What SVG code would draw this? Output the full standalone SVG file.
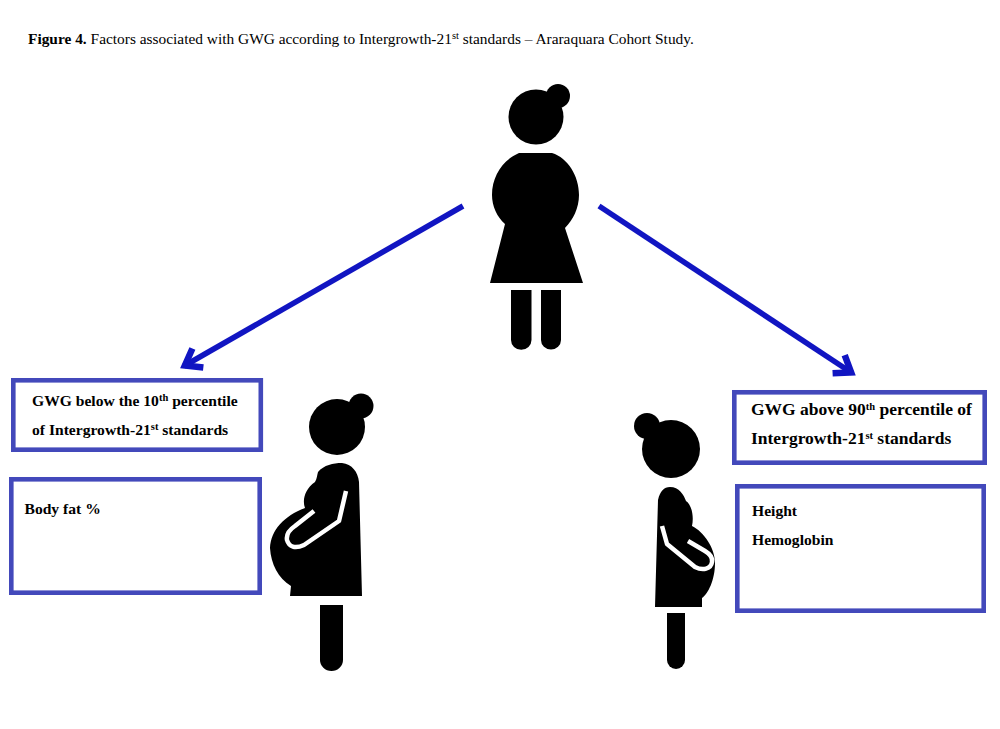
<svg xmlns="http://www.w3.org/2000/svg" width="1000" height="729" viewBox="0 0 1000 729">
<style>
text{font-family:"Liberation Serif","Times New Roman",serif;fill:#000}
.cap{font-size:15.4px}
.lab{font-size:15.6px;font-weight:bold}
.lab2{font-size:17.5px;font-weight:bold}
.sup{font-size:10.500px}
.box{fill:#fff;stroke:#4349bb;stroke-width:4.6}
.conn{fill:none;stroke:#1115c2;stroke-width:5.500}
.fig{fill:#000}
.arm{fill:none;stroke:#fff;stroke-width:4.500;stroke-linejoin:round}
</style>
<defs>
<marker id="head" markerUnits="userSpaceOnUse" markerWidth="32" markerHeight="32" refX="26" refY="16" orient="auto">
<path d="M10 5L25 16L10 27" fill="none" stroke="#1115c2" stroke-width="6.500" stroke-linejoin="miter"/>
</marker>
</defs>
<rect width="1000" height="729" fill="#fff"/>
<text id="caption" class="cap" x="28" y="44"><tspan font-weight="bold">Figure 4.</tspan> Factors associated with GWG according to Intergrowth-21<tspan class="sup" dy="-5">st</tspan><tspan dy="5"> standards – Araraquara Cohort Study.</tspan></text>
<g id="connectors">
<path class="conn" d="M463 206L184 366" marker-end="url(#head)"/>
<path class="conn" d="M599 206L852 373" marker-end="url(#head)"/>
</g>
<g id="woman">
<circle class="fig" cx="536" cy="117" r="27.500"/>
<circle class="fig" cx="558" cy="96" r="12"/>
<path class="fig" d="M519 153H552C568 158 579 176 579 195C579 208 573 220 565 228L583 283H490L505 224C497 217 492 206 492 195C492 176 503 160 519 153Z"/>
<path class="fig" d="M511 290H531.500V340A10 9.500 0 0 1 511 340Z"/>
<path class="fig" d="M541 290H561V340A10 9.500 0 0 1 541 340Z"/>
</g>
<g id="pregnant-left">
<circle class="fig" cx="337" cy="427" r="28"/>
<circle class="fig" cx="361" cy="406" r="12.500"/>
<path class="fig" d="M318 472C324 465 333 463 342 463C352 464 358 472 359 482L362 596H290L291 586C278 578 271 564 270 548C271 530 284 516 305 508C302 500 305 489 315 482C317 479 317 475 318 472Z"/>
<path class="arm" d="M346 491L339 521L304 545C295 549 289 547 287 540C286 534 289 530 295 526L314 511"/>
<path class="fig" d="M320 605H343V660A11.500 11 0 0 1 320 660Z"/>
</g>
<g id="pregnant-right">
<circle class="fig" cx="671" cy="449" r="29"/>
<circle class="fig" cx="647" cy="426" r="13"/>
<path class="fig" d="M658 500C660 491 664 487 670 487C679 487 684 495 686 501C692 505 694 517 692 526C704 532 715 548 715 563C715 580 708 594 702 598V607H655Z"/>
<path class="arm" d="M662 526L667 544L695 567C703 571 711 569 712 562C713 557 710 554 705 551L688 541"/>
<path class="fig" d="M667 613H685V660A9 9 0 0 1 667 660Z"/>
</g>
<g id="box-below">
<rect class="box" x="13.300" y="380.300" width="247.500" height="69.400"/>
<text class="lab" x="32" y="406">GWG below the 10<tspan class="sup" dy="-5">th</tspan><tspan dy="5"> percentile</tspan></text>
<text class="lab" x="32" y="435">of Intergrowth-21<tspan class="sup" dy="-5">st</tspan><tspan dy="5"> standards</tspan></text>
</g>
<g id="box-below-factors">
<rect class="box" x="11.300" y="479.300" width="248.400" height="113.400"/>
<text class="lab" x="24.500" y="514">Body fat %</text>
</g>
<g id="box-above">
<rect class="box" x="734.300" y="392.300" width="250.400" height="70.400"/>
<text class="lab2" x="751" y="415">GWG above 90<tspan class="sup" dy="-5">th</tspan><tspan dy="5"> percentile of</tspan></text>
<text class="lab2" x="751" y="444">Intergrowth-21<tspan class="sup" dy="-5">st</tspan><tspan dy="5"> standards</tspan></text>
</g>
<g id="box-above-factors">
<rect class="box" x="737.300" y="486.300" width="246.400" height="124.400"/>
<text class="lab" x="752" y="516">Height</text>
<text class="lab" x="752" y="545">Hemoglobin</text>
</g>
</svg>
